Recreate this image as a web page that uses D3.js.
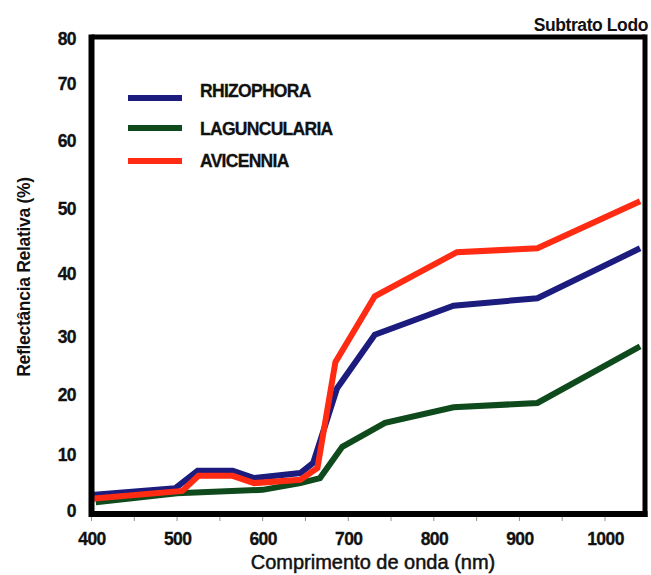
<!DOCTYPE html>
<html>
<head>
<meta charset="utf-8">
<script src="https://cdn.jsdelivr.net/npm/d3@7/dist/d3.min.js"></script>
<style>
  html, body { margin: 0; padding: 0; background: #ffffff; }
  svg { display: block; font-family: "Liberation Sans", Arial, sans-serif; }
</style>
</head>
<body>
<svg id="chart" width="651" height="575"></svg>
<script>
// Reflectance spectra (%) of three mangrove genera over mud substrate
const seriesNames = ["RHIZOPHORA", "LAGUNCULARIA", "AVICENNIA"];
const seriesColors = ["#1b1c7e", "#0e4a1c", "#ff2b12"];

const rhizophoraNm  = [400, 498, 524, 565, 590, 644, 659, 687, 731, 823, 921, 1041];
const rhizophoraVal = [2.7, 3.9, 7.0, 7.0, 5.7, 6.6, 8.4, 21.0, 30.2, 34.8, 36.0, 43.8];

const lagunculariaNm  = [405, 500, 600, 644, 667, 693, 743, 823, 921, 1041];
const lagunculariaVal = [1.4, 3.0, 3.6, 4.8, 5.7, 11.2, 15.2, 17.8, 18.5, 28.2];

const avicenniaNm  = [400, 506, 525, 565, 590, 644, 664, 685, 731, 827, 921, 1041];
const avicenniaVal = [2.0, 3.4, 6.1, 6.1, 4.8, 5.4, 7.5, 25.5, 36.3, 43.2, 43.8, 51.0];

const xTicks = [400, 500, 600, 700, 800, 900, 1000];
const yTicks = [0, 10, 20, 30, 40, 50, 60, 70, 80];

const series = [
  { name: seriesNames[0], color: seriesColors[0], nm: rhizophoraNm, val: rhizophoraVal },
  { name: seriesNames[1], color: seriesColors[1], nm: lagunculariaNm, val: lagunculariaVal },
  { name: seriesNames[2], color: seriesColors[2], nm: avicenniaNm, val: avicenniaVal }
];

const svg = d3.select("#chart");

// Plot frame
const frameL = 91.5, frameR = 645, frameT = 37, frameB = 514;

const x = d3.scaleLinear().domain([400, 1000]).range([91.5, 605]);
// The value axis of this figure is graduated unevenly; a piecewise scale follows its graduation
const yPix = [510, 454, 394, 336, 273, 208, 140, 83, 38];
const y = d3.scaleLinear().domain(yTicks).range(yPix);

// Minor tick marks under the wavelength axis
const minor = d3.range(400, 1050, 50);
svg.append("g")
  .selectAll("line")
  .data(minor)
  .join("line")
  .attr("x1", d => x(d)).attr("x2", d => x(d))
  .attr("y1", frameB + 2).attr("y2", frameB + 7)
  .attr("stroke", "#9a8f80").attr("stroke-width", 1);

// Series lines (green first, red on top)
const line = d3.line().x(d => x(d[0])).y(d => y(d[1]));
const drawOrder = [1, 0, 2];
drawOrder.forEach(i => {
  const s = series[i];
  svg.append("path")
    .datum(d3.zip(s.nm, s.val))
    .attr("d", line)
    .attr("fill", "none")
    .attr("stroke", s.color)
    .attr("stroke-width", 6)
    .attr("stroke-linejoin", "miter")
    .attr("stroke-linecap", "butt");
});

// Frame
svg.append("line").attr("x1", frameL).attr("x2", frameR).attr("y1", frameT).attr("y2", frameT)
  .attr("stroke", "#000").attr("stroke-width", 5);
svg.append("line").attr("x1", frameR).attr("x2", frameR).attr("y1", frameT - 2.5).attr("y2", frameB + 3)
  .attr("stroke", "#000").attr("stroke-width", 5);
svg.append("line").attr("x1", frameL).attr("x2", frameR + 2.5).attr("y1", frameB).attr("y2", frameB)
  .attr("stroke", "#000").attr("stroke-width", 6);
svg.append("line").attr("x1", frameL).attr("x2", frameL).attr("y1", frameT - 2.5).attr("y2", frameB + 3)
  .attr("stroke", "#000").attr("stroke-width", 6);

// Axis tick labels
const xAxis = d3.axisBottom(x).tickValues(xTicks).tickFormat(d3.format("d")).tickSize(0).tickPadding(0);
const gx = svg.append("g").attr("transform", `translate(0,${frameB})`).call(xAxis);
gx.select(".domain").remove();
gx.selectAll("text")
  .attr("y", 31).attr("dy", null)
  .attr("font-size", 17.5).attr("font-weight", "bold")
  .attr("letter-spacing", -0.6)
  .attr("fill", "#111")
  .attr("stroke", "#111").attr("stroke-width", 0.3)
  .attr("font-family", "Liberation Sans, Arial, sans-serif");

const yAxis = d3.axisLeft(y).tickValues(yTicks).tickFormat(d3.format("d")).tickSize(0).tickPadding(0);
const gy = svg.append("g").attr("transform", `translate(76,0)`).call(yAxis);
gy.select(".domain").remove();
gy.selectAll("text")
  .attr("x", 0).attr("dy", "0.36em")
  .attr("font-size", 17.5).attr("font-weight", "bold")
  .attr("letter-spacing", -0.6)
  .attr("fill", "#111")
  .attr("stroke", "#111").attr("stroke-width", 0.3)
  .attr("font-family", "Liberation Sans, Arial, sans-serif");

// Axis titles
svg.append("text")
  .attr("x", 373).attr("y", 569)
  .attr("text-anchor", "middle")
  .attr("font-size", 20)
  .attr("fill", "#111")
  .attr("stroke", "#111").attr("stroke-width", 0.5)
  .text("Comprimento de onda (nm)");

svg.append("text")
  .attr("transform", "translate(30,277) rotate(-90)")
  .attr("text-anchor", "middle")
  .attr("font-size", 17.5)
  .attr("font-weight", "bold")
  .attr("letter-spacing", -0.3)
  .attr("fill", "#111")
  .text("Reflectância Relativa (%)");

// Panel label
svg.append("text")
  .attr("x", 648).attr("y", 31)
  .attr("text-anchor", "end")
  .attr("font-size", 17.5)
  .attr("font-weight", "bold")
  .attr("letter-spacing", -0.4)
  .attr("fill", "#111")
  .text("Subtrato Lodo");

// Legend
const legendLineY = [98, 128, 161];
const legendTextY = [97, 135, 167];
const legend = svg.append("g");
series.forEach((s, i) => {
  legend.append("line")
    .attr("x1", 128).attr("x2", 182)
    .attr("y1", legendLineY[i]).attr("y2", legendLineY[i])
    .attr("stroke", s.color).attr("stroke-width", 6);
  legend.append("text")
    .attr("x", 200).attr("y", legendTextY[i])
    .attr("font-size", 17.5)
    .attr("font-weight", "bold")
    .attr("letter-spacing", -0.7)
    .attr("fill", "#111")
    .attr("stroke", "#111").attr("stroke-width", 0.3)
    .text(s.name);
});
</script>
</body>
</html>
